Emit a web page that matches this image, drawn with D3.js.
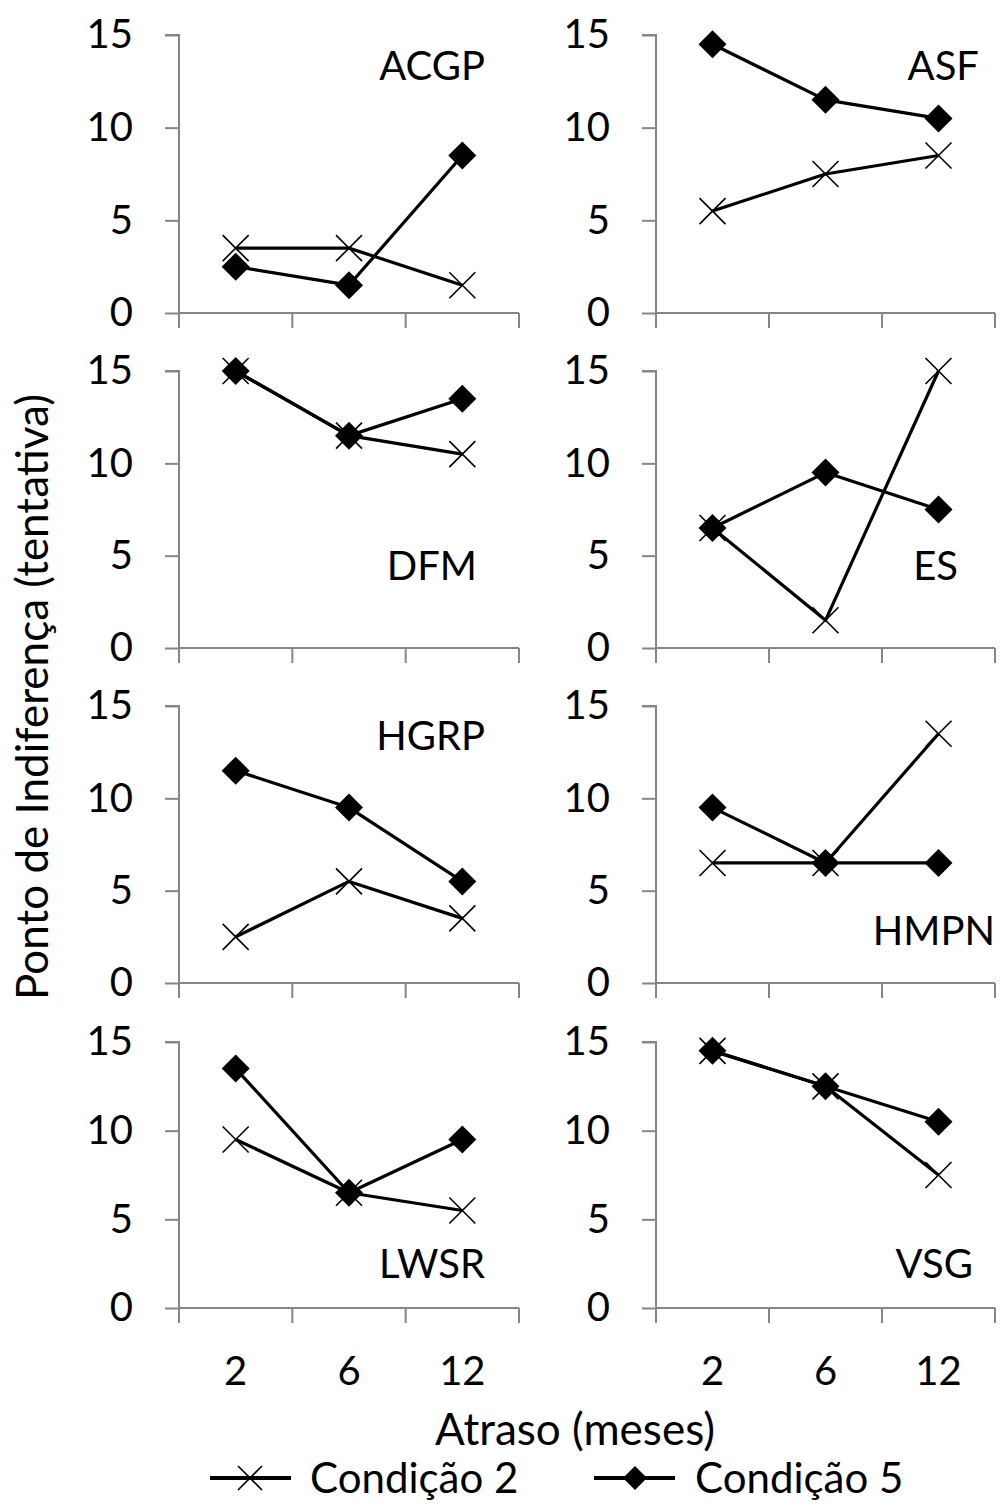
<!DOCTYPE html>
<html>
<head>
<meta charset="utf-8">
<script src="https://cdn.jsdelivr.net/npm/d3@7"></script>
<style>
  html, body { margin: 0; padding: 0; background: #fff; }
  svg { display: block; font-family: Lato, "Open Sans", sans-serif; }
</style>
</head>
<body>
<svg id="chart" width="1001" height="1508"></svg>
<script>
// ---- data ----
const delays = ["2", "6", "12"];
const participants = ["ACGP", "ASF", "DFM", "ES", "HGRP", "HMPN", "LWSR", "VSG"];
const condicao2 = [
  [3.5, 3.5, 1.5],   // ACGP
  [5.5, 7.5, 8.5],   // ASF
  [15, 11.5, 10.5],  // DFM
  [6.5, 1.5, 15],    // ES
  [2.5, 5.5, 3.5],   // HGRP
  [6.5, 6.5, 13.5],  // HMPN
  [9.5, 6.5, 5.5],   // LWSR
  [14.5, 12.5, 7.5]  // VSG
];
const condicao5 = [
  [2.5, 1.5, 8.5],   // ACGP
  [14.5, 11.5, 10.5],// ASF
  [15, 11.5, 13.5],  // DFM
  [6.5, 9.5, 7.5],   // ES
  [11.5, 9.5, 5.5],  // HGRP
  [9.5, 6.5, 6.5],   // HMPN
  [13.5, 6.5, 9.5],  // LWSR
  [14.5, 12.5, 10.5] // VSG
];
const yTicks = [0, 5, 10, 15];
const seriesNames = ["Condição 2", "Condição 5"];
const yTitle = "Ponto de Indiferença (tentativa)";
const xTitle = "Atraso (meses)";

// ---- layout ----
const cols = [[179, 519], [656, 995]];
const rows = [[35, 313], [371, 648], [706, 983], [1042, 1308]];
const labelPos = [
  {x: 485, y: 80}, {x: 979, y: 80},
  {x: 477, y: 580}, {x: 958, y: 580},
  {x: 485, y: 750}, {x: 995, y: 945},
  {x: 485, y: 1278}, {x: 973, y: 1278}
];

const svg = d3.select("#chart");
const axisColor = "#868686";
const FS = 40;

function xMarker(g, x, y, s) {
  g.append("path")
    .attr("d", `M${x - s},${y - s}L${x + s},${y + s}M${x - s},${y + s}L${x + s},${y - s}`)
    .attr("stroke", "#000").attr("stroke-width", 1.6).attr("fill", "none");
}
function diamond(g, x, y, s) {
  g.append("path")
    .attr("d", `M${x},${y - s}L${x + s},${y}L${x},${y + s}L${x - s},${y}Z`)
    .attr("fill", "#000");
}

participants.forEach((name, i) => {
  const c = i % 2, r = Math.floor(i / 2);
  const x = d3.scaleBand().domain(delays).range(cols[c]).padding(0);
  const y = d3.scaleLinear().domain([0, 15]).range([rows[r][1], rows[r][0]]);
  const g = svg.append("g");

  // y axis
  const yAx = g.append("g").attr("transform", `translate(${cols[c][0]},0)`)
    .call(d3.axisLeft(y).tickValues(yTicks).tickSize(14).tickPadding(32).tickFormat(d3.format("d")));
  yAx.select(".domain").attr("d", `M-14,${y(15)}H0V${y(0)}`).attr("stroke", axisColor).attr("stroke-width", 2);
  yAx.selectAll(".tick line").attr("stroke", axisColor).attr("stroke-width", 2);
  yAx.selectAll(".tick text").attr("font-size", FS).attr("fill", "#000")
    .attr("font-family", "Lato, sans-serif");

  // x axis with ticks at band boundaries
  const xg = g.append("g");
  xg.append("line").attr("x1", cols[c][0]).attr("x2", cols[c][1])
    .attr("y1", y(0)).attr("y2", y(0)).attr("stroke", axisColor).attr("stroke-width", 2);
  const bounds = delays.map(d => x(d)).concat([x(delays[delays.length - 1]) + x.bandwidth()]);
  xg.selectAll("line.xt").data(bounds).enter().append("line").attr("class", "xt")
    .attr("x1", d => d).attr("x2", d => d)
    .attr("y1", y(0)).attr("y2", y(0) + 15)
    .attr("stroke", axisColor).attr("stroke-width", 2);
  if (r === 3) {
    xg.selectAll("text").data(delays).enter().append("text")
      .attr("x", d => x(d) + x.bandwidth() / 2).attr("y", 1385)
      .attr("text-anchor", "middle").attr("font-size", FS).text(d => d);
  }

  const cx = d => x(d) + x.bandwidth() / 2;
  const line = d3.line().x((v, k) => cx(delays[k])).y(v => y(v));

  // Condição 2
  g.append("path").attr("d", line(condicao2[i])).attr("fill", "none")
    .attr("stroke", "#000").attr("stroke-width", 3.2).attr("stroke-linejoin", "round");
  condicao2[i].forEach((v, k) => xMarker(g, cx(delays[k]), y(v), 13));
  // Condição 5
  g.append("path").attr("d", line(condicao5[i])).attr("fill", "none")
    .attr("stroke", "#000").attr("stroke-width", 3.2).attr("stroke-linejoin", "round");
  condicao5[i].forEach((v, k) => diamond(g, cx(delays[k]), y(v), 14));

  // panel label
  g.append("text").attr("x", labelPos[i].x).attr("y", labelPos[i].y)
    .attr("text-anchor", "end").attr("font-size", FS).text(name);
});

// titles
svg.append("text").attr("transform", "translate(48,697) rotate(-90)")
  .attr("text-anchor", "middle").attr("font-size", 44).text(yTitle);
svg.append("text").attr("x", 575).attr("y", 1445)
  .attr("text-anchor", "middle").attr("font-size", 44).text(xTitle);

// legend
const leg = svg.append("g");
const legItems = [
  {x1: 210, x2: 291, mx: 250, tx: 310, m: "x"},
  {x1: 594, x2: 675, mx: 635, tx: 695, m: "d"}
];
legItems.forEach((it, k) => {
  leg.append("line").attr("x1", it.x1).attr("x2", it.x2).attr("y1", 1478).attr("y2", 1478)
    .attr("stroke", "#000").attr("stroke-width", 4);
  if (it.m === "x") xMarker(leg, it.mx, 1478, 12);
  else diamond(leg, it.mx, 1478, 12);
  leg.append("text").attr("x", it.tx).attr("y", 1493).attr("font-size", 42).text(seriesNames[k]);
});
</script>
</body>
</html>
